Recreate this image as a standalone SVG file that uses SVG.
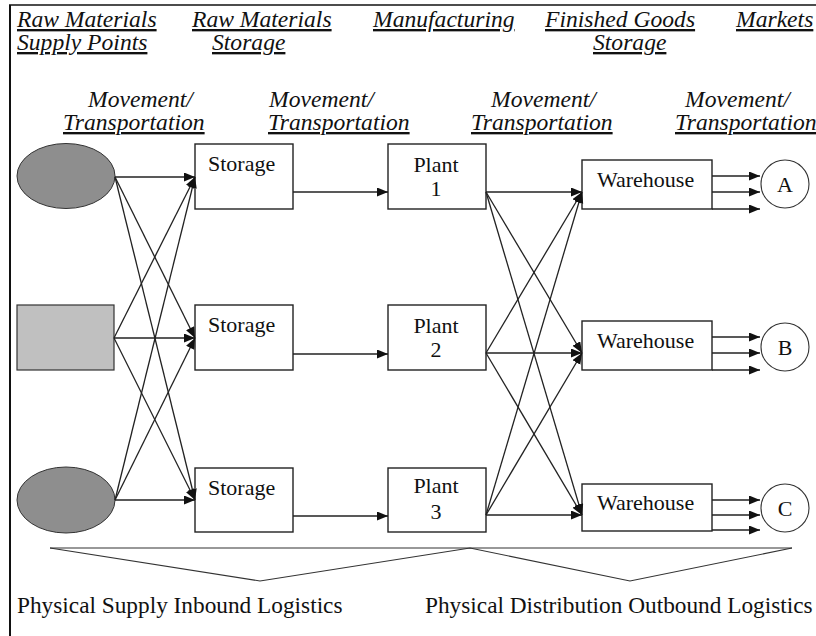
<svg xmlns="http://www.w3.org/2000/svg" width="816" height="636" viewBox="0 0 816 636">
<style>
.hd{font-family:"Liberation Serif","Times New Roman",serif;font-style:italic;font-size:23.6px;fill:#111;text-decoration:underline;}
.mv{font-family:"Liberation Serif","Times New Roman",serif;font-style:italic;font-size:23.6px;fill:#111;}
.nt{font-family:"Liberation Serif","Times New Roman",serif;font-size:22px;fill:#111;}
.bt{font-family:"Liberation Serif","Times New Roman",serif;font-size:23.3px;fill:#111;}
.box{fill:#fff;stroke:#222;stroke-width:1.4;}
.cn line{stroke:#222;stroke-width:1.3;marker-end:url(#ah);}
</style>
<defs>
<marker id="ah" markerUnits="userSpaceOnUse" markerWidth="12" markerHeight="10" refX="11" refY="4.5" orient="auto">
<path d="M0,0 L11,4.5 L0,9 z" fill="#111"/>
</marker>
</defs>
<rect width="816" height="636" fill="#fff"/>
<g id="frame" stroke="#111" fill="none">
<line x1="10" y1="5" x2="10" y2="636" stroke-width="2"/>
<line x1="9" y1="5" x2="816" y2="5" stroke-width="1.5"/>
</g>
<g id="headers">
<text class="hd" x="17" y="27">Raw Materials</text>
<text class="hd" x="17" y="50">Supply Points</text>
<text class="hd" x="192" y="27">Raw Materials</text>
<text class="hd" x="212" y="50">Storage</text>
<text class="hd" x="373" y="27">Manufacturing</text>
<text class="hd" x="545" y="27">Finished Goods</text>
<text class="hd" x="593" y="50">Storage</text>
<text class="hd" x="736" y="27">Markets</text>
<text class="mv" x="88" y="107">Movement/</text>
<text class="hd" x="63" y="130">Transportation</text>
<text class="mv" x="269" y="107">Movement/</text>
<text class="hd" x="268" y="130">Transportation</text>
<text class="mv" x="491" y="107">Movement/</text>
<text class="hd" x="471" y="130">Transportation</text>
<text class="mv" x="685" y="107">Movement/</text>
<text class="hd" x="675" y="130">Transportation</text>
</g>
<g id="supply1"><ellipse cx="66" cy="176" rx="49" ry="32.5" fill="#8e8e8e" stroke="#333" stroke-width="1"/></g>
<g id="supply2"><rect x="17" y="305" width="97" height="65" fill="#c0c0c0" stroke="#333" stroke-width="1.2"/></g>
<g id="supply3"><ellipse cx="66" cy="500" rx="49" ry="33" fill="#8e8e8e" stroke="#333" stroke-width="1"/></g>
<g id="storage1"><rect class="box" x="195" y="144" width="98" height="65"/><text class="nt" x="208" y="171">Storage</text></g>
<g id="storage2"><rect class="box" x="195" y="305" width="98" height="65"/><text class="nt" x="208" y="332">Storage</text></g>
<g id="storage3"><rect class="box" x="195" y="468" width="98" height="64"/><text class="nt" x="208" y="495">Storage</text></g>
<g id="plant1"><rect class="box" x="388" y="144" width="98" height="65"/><text class="nt" x="436" y="172" text-anchor="middle">Plant</text><text class="nt" x="436" y="196" text-anchor="middle">1</text></g>
<g id="plant2"><rect class="box" x="388" y="305" width="98" height="65"/><text class="nt" x="436" y="333" text-anchor="middle">Plant</text><text class="nt" x="436" y="357" text-anchor="middle">2</text></g>
<g id="plant3"><rect class="box" x="388" y="468" width="98" height="64"/><text class="nt" x="436" y="493" text-anchor="middle">Plant</text><text class="nt" x="436" y="519" text-anchor="middle">3</text></g>
<g id="warehouse1"><rect class="box" x="582" y="160" width="130" height="49"/><text class="nt" x="597" y="187">Warehouse</text></g>
<g id="warehouse2"><rect class="box" x="582" y="321" width="130" height="49"/><text class="nt" x="597" y="348">Warehouse</text></g>
<g id="warehouse3"><rect class="box" x="582" y="484" width="130" height="47"/><text class="nt" x="597" y="510">Warehouse</text></g>
<g id="marketA"><circle cx="785" cy="184" r="24" fill="#fff" stroke="#333" stroke-width="1.1"/><text class="nt" x="785" y="192" text-anchor="middle">A</text></g>
<g id="marketB"><circle cx="785" cy="347" r="24" fill="#fff" stroke="#333" stroke-width="1.1"/><text class="nt" x="785" y="355" text-anchor="middle">B</text></g>
<g id="marketC"><circle cx="785" cy="508" r="24" fill="#fff" stroke="#333" stroke-width="1.1"/><text class="nt" x="785" y="516" text-anchor="middle">C</text></g>
<g id="connectors" class="cn">
<line x1="115" y1="177" x2="195" y2="177"/>
<line x1="115" y1="177" x2="195" y2="338"/>
<line x1="115" y1="177" x2="195" y2="500"/>
<line x1="114" y1="338" x2="195" y2="177"/>
<line x1="114" y1="338" x2="195" y2="338"/>
<line x1="114" y1="338" x2="195" y2="500"/>
<line x1="115" y1="500" x2="195" y2="177"/>
<line x1="115" y1="500" x2="195" y2="338"/>
<line x1="115" y1="500" x2="195" y2="500"/>
<line x1="293" y1="192" x2="388" y2="192"/>
<line x1="293" y1="354" x2="388" y2="354"/>
<line x1="293" y1="516" x2="388" y2="516"/>
<line x1="486" y1="192" x2="582" y2="192"/>
<line x1="486" y1="192" x2="582" y2="353"/>
<line x1="486" y1="192" x2="582" y2="515"/>
<line x1="486" y1="353" x2="582" y2="192"/>
<line x1="486" y1="353" x2="582" y2="353"/>
<line x1="486" y1="353" x2="582" y2="515"/>
<line x1="486" y1="515" x2="582" y2="192"/>
<line x1="486" y1="515" x2="582" y2="353"/>
<line x1="486" y1="515" x2="582" y2="515"/>
<line x1="712" y1="176" x2="760" y2="176"/>
<line x1="712" y1="192" x2="760" y2="192"/>
<line x1="712" y1="209" x2="760" y2="209"/>
<line x1="712" y1="337" x2="760" y2="337"/>
<line x1="712" y1="353" x2="760" y2="353"/>
<line x1="712" y1="370" x2="760" y2="370"/>
<line x1="712" y1="500" x2="760" y2="500"/>
<line x1="712" y1="515" x2="760" y2="515"/>
<line x1="712" y1="530" x2="760" y2="530"/>
</g>
<g id="braces" fill="none" stroke="#333" stroke-width="1.1">
<line x1="50" y1="548" x2="792" y2="548"/>
<polyline points="50,548 260,581 470,548 630,581 792,548"/>
</g>
<g id="footer">
<text class="bt" x="17" y="613">Physical Supply Inbound Logistics</text>
<text class="bt" x="425" y="613">Physical Distribution Outbound Logistics</text>
</g>
</svg>
